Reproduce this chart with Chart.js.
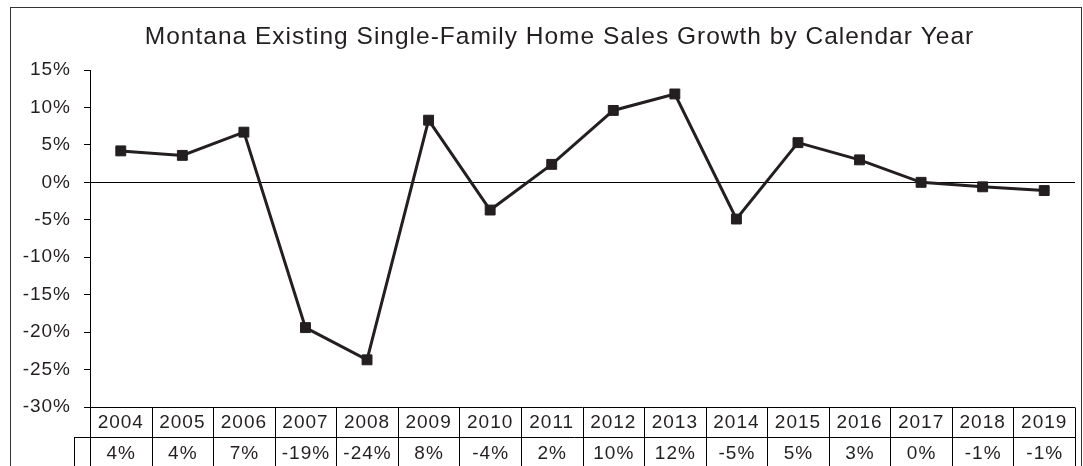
<!DOCTYPE html>
<html><head><meta charset="utf-8">
<script src="https://cdn.jsdelivr.net/npm/chart.js@4.4.1/dist/chart.umd.min.js"></script>
<style>html,body{margin:0;padding:0;background:#fff;}#wrap{width:1083px;height:466px;position:relative;}</style>
</head><body><div id="wrap"><canvas id="c" width="1083" height="466"></canvas></div>
<script>
const titleText = 'Montana Existing Single-Family Home Sales Growth by Calendar Year';
const years = ['2004','2005','2006','2007','2008','2009','2010','2011','2012','2013','2014','2015','2016','2017','2018','2019'];
const growth = [4.2, 3.6, 6.7, -19.4, -23.7, 8.3, -3.7, 2.4, 9.6, 11.8, -4.9, 5.3, 3.0, 0.0, -0.6, -1.1];
const yMin = -30, yMax = 15, yStep = 5;

const INK = '#231f20';
const FONT = 'Liberation Sans, Arial, sans-serif';

const pct = v => { const r = Math.round(v); return (r === 0 ? 0 : r) + '%'; };

const spacingPlugin = {
  id: 'spacing',
  beforeUpdate(chart) { chart.ctx.letterSpacing = '1px'; },
  afterLayout(chart) {
    if (chart.titleBlock) { chart.titleBlock.left = 44; }
  },
  beforeDraw(chart) { chart.ctx.letterSpacing = '1px'; }
};

const framePlugin = {
  id: 'frame',
  beforeDraw(chart) {
    const ctx = chart.ctx;
    ctx.save();
    ctx.fillStyle = '#fff';
    ctx.fillRect(0, 0, chart.width, chart.height);
    ctx.strokeStyle = '#333';
    ctx.lineWidth = 1;
    ctx.strokeRect(10.5, 7.5, 1071, 480);
    ctx.restore();
  }
};

const tablePlugin = {
  id: 'dataTable',
  afterDraw(chart) {
    const ctx = chart.ctx, a = chart.chartArea, x = chart.scales.x;
    const top = Math.round(a.bottom) + 0.5;
    const mid = top + 30;
    const bot = chart.height;
    const n = years.length;
    ctx.save();
    ctx.strokeStyle = '#000';
    ctx.lineWidth = 1;
    ctx.beginPath();
    ctx.moveTo(a.left, top); ctx.lineTo(a.right, top);
    ctx.moveTo(74, mid); ctx.lineTo(a.right, mid);
    for (let i = 0; i <= n; i++) {
      let bx;
      if (i === 0) bx = a.left;
      else if (i === n) bx = a.right;
      else bx = (x.getPixelForValue(i - 1) + x.getPixelForValue(i)) / 2;
      bx = Math.round(bx) + 0.5;
      ctx.moveTo(bx, top); ctx.lineTo(bx, bot);
    }
    ctx.moveTo(74.5, mid); ctx.lineTo(74.5, bot);
    ctx.stroke();
    ctx.fillStyle = INK;
    ctx.font = '19px ' + FONT;
    ctx.letterSpacing = '1px';
    ctx.textAlign = 'center';
    ctx.textBaseline = 'middle';
    growth.forEach((v, i) => {
      ctx.fillText(pct(v), x.getPixelForValue(i) + 0.5, mid + 16);
    });
    ctx.restore();
  }
};

new Chart(document.getElementById('c'), {
  type: 'line',
  data: {
    labels: years,
    datasets: [{
      data: growth,
      borderColor: INK,
      backgroundColor: INK,
      borderWidth: 3,
      pointStyle: 'rect',
      pointRadius: 7,
      pointBorderWidth: 1,
      pointBackgroundColor: INK,
      pointBorderColor: INK,
      tension: 0,
      fill: false
    }]
  },
  options: {
    responsive: false,
    animation: false,
    devicePixelRatio: 1,
    layout: { padding: { left: 0, right: 8, top: 0, bottom: 0 } },
    plugins: {
      legend: { display: false },
      tooltip: { enabled: false },
      title: {
        display: true,
        text: titleText,
        color: INK,
        font: { family: FONT, size: 24.5, weight: 'normal' },
        padding: { top: 23, bottom: 17.6 }
      }
    },
    scales: {
      x: {
        offset: true,
        grid: { display: false, drawTicks: false },
        border: { display: false },
        ticks: { padding: 4, color: INK, font: { family: FONT, size: 19 }, maxRotation: 0, autoSkip: false },
        afterFit(s) { s.height = 59; }
      },
      y: {
        min: yMin, max: yMax,
        ticks: { stepSize: yStep, callback: v => v + '%', padding: 13, color: INK, font: { family: FONT, size: 19 } },
        grid: {
          drawOnChartArea: true,
          color: c => (c.tick && c.tick.value === 0) ? '#000' : 'rgba(0,0,0,0)',
          tickColor: '#000',
          tickLength: 6,
          lineWidth: 1
        },
        border: { display: true, color: '#000', width: 1 },
        afterFit(s) { s.width = 90; }
      }
    }
  },
  plugins: [spacingPlugin, framePlugin, tablePlugin]
});
</script>
</body></html>
